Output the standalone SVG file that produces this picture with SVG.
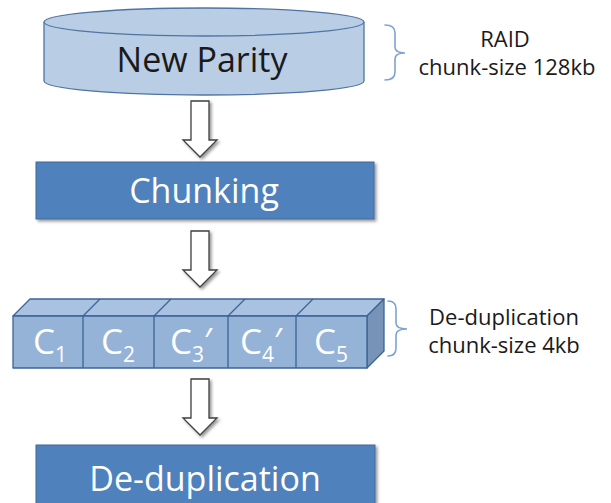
<svg xmlns="http://www.w3.org/2000/svg" width="611" height="503" viewBox="0 0 611 503">
  <defs>
    <filter id="shadow" x="-10%" y="-10%" width="130%" height="140%">
      <feDropShadow dx="2" dy="2" stdDeviation="1.8" flood-color="#000" flood-opacity="0.4"/>
    </filter>
    <path id="down-arrow" d="M-9,0 H9 V39 H17 L0,56 L-17,39 H-9 Z"/>
  </defs>
  <style>
    text { font-family: "Open Sans", "Noto Sans", "DejaVu Sans", sans-serif; }
    .dark { fill: #1a1a1a; }
    .white { fill: #ffffff; }
    .box { fill: #4f81bd; stroke: #41699a; stroke-width: 1; filter: url(#shadow); }
    .cyl { fill: #b9cde5; stroke: #4f74a3; stroke-width: 1.3; }
    .arrow { fill: #ffffff; stroke: #3f3f3f; stroke-width: 1.3; filter: url(#shadow); }
    .front { fill: #95b3d7; stroke: #3c6496; stroke-width: 1.3; stroke-linejoin: round; }
    .top { fill: #a9c2e1; stroke: #3c6496; stroke-width: 1.3; stroke-linejoin: round; }
    .side { fill: #7893b8; stroke: #3c6496; stroke-width: 1.3; stroke-linejoin: round; }
    .brace { fill: none; stroke: #7fa2d2; stroke-width: 1.6; stroke-linecap: round; }
    .big { font-size: 34px; }
    .note { font-size: 22px; }
    .cell { font-size: 35px; }
    .sub { font-size: 21px; }
  </style>

  <!-- New Parity: storage cylinder -->
  <g id="new-parity">
    <path class="cyl" d="M44,22 V81 A160,14 0 0 0 364,81 V22"/>
    <ellipse class="cyl" cx="204" cy="22" rx="160" ry="14"/>
    <text class="big dark" x="202" y="72" text-anchor="middle">New Parity</text>
  </g>

  <!-- RAID chunk-size note -->
  <g id="raid-note">
    <path class="brace" d="M385,25 Q395,25 395,33 V47 Q395,53 405,53 Q395,53 395,59 V72 Q395,80 385,80"/>
    <text class="note dark" x="505" y="47" text-anchor="middle">RAID</text>
    <text class="note dark" x="507" y="75" text-anchor="middle">chunk-size 128kb</text>
  </g>

  <!-- Chunking step -->
  <g id="chunking">
    <rect class="box" x="36" y="162" width="338" height="57"/>
    <text class="big white" x="204" y="203" text-anchor="middle">Chunking</text>
  </g>

  <!-- Chunk row: 3D bar split into five blocks -->
  <g id="chunks">
    <path class="top" d="M13,316 L30,299 H384 L367,316 Z"/>
    <path class="side" d="M367,316 L384,299 V351 L367,368 Z"/>
    <rect class="front" x="13" y="316" width="354" height="52"/>
    <g fill="none" stroke="#3c6496" stroke-width="1.3">
      <path d="M83,316 V368 M83,316 L100,299"/>
      <path d="M154,316 V368 M154,316 L171,299"/>
      <path d="M228,316 V368 M228,316 L245,299"/>
      <path d="M296,316 V368 M296,316 L313,299"/>
    </g>
    <text class="cell white" x="50" y="354" text-anchor="middle">C<tspan class="sub" dy="8">1</tspan></text>
    <text class="cell white" x="118" y="354" text-anchor="middle">C<tspan class="sub" dy="8">2</tspan></text>
    <text class="cell white" x="191" y="354" text-anchor="middle">C<tspan class="sub" dy="8">3</tspan><tspan dy="-9">′</tspan></text>
    <text class="cell white" x="261" y="354" text-anchor="middle">C<tspan class="sub" dy="8">4</tspan><tspan dy="-9">′</tspan></text>
    <text class="cell white" x="331" y="354" text-anchor="middle">C<tspan class="sub" dy="8">5</tspan></text>
  </g>

  <!-- De-duplication chunk-size note -->
  <g id="dedup-note">
    <path class="brace" d="M388,301 Q396,301 396,309 V323 Q396,329 407,329 Q396,329 396,335 V348 Q396,356 388,356"/>
    <text class="note dark" x="504" y="325" text-anchor="middle">De-duplication</text>
    <text class="note dark" x="504" y="353" text-anchor="middle">chunk-size 4kb</text>
  </g>

  <!-- De-duplication step -->
  <g id="de-duplication">
    <rect class="box" x="36" y="445" width="339" height="70"/>
    <text class="big white" x="205" y="491" text-anchor="middle">De-duplication</text>
  </g>

  <!-- Block arrows between the steps -->
  <g id="connectors">
    <use href="#down-arrow" class="arrow" x="200" y="101"/>
    <use href="#down-arrow" class="arrow" x="200" y="231"/>
    <use href="#down-arrow" class="arrow" x="200" y="379"/>
  </g>
</svg>
